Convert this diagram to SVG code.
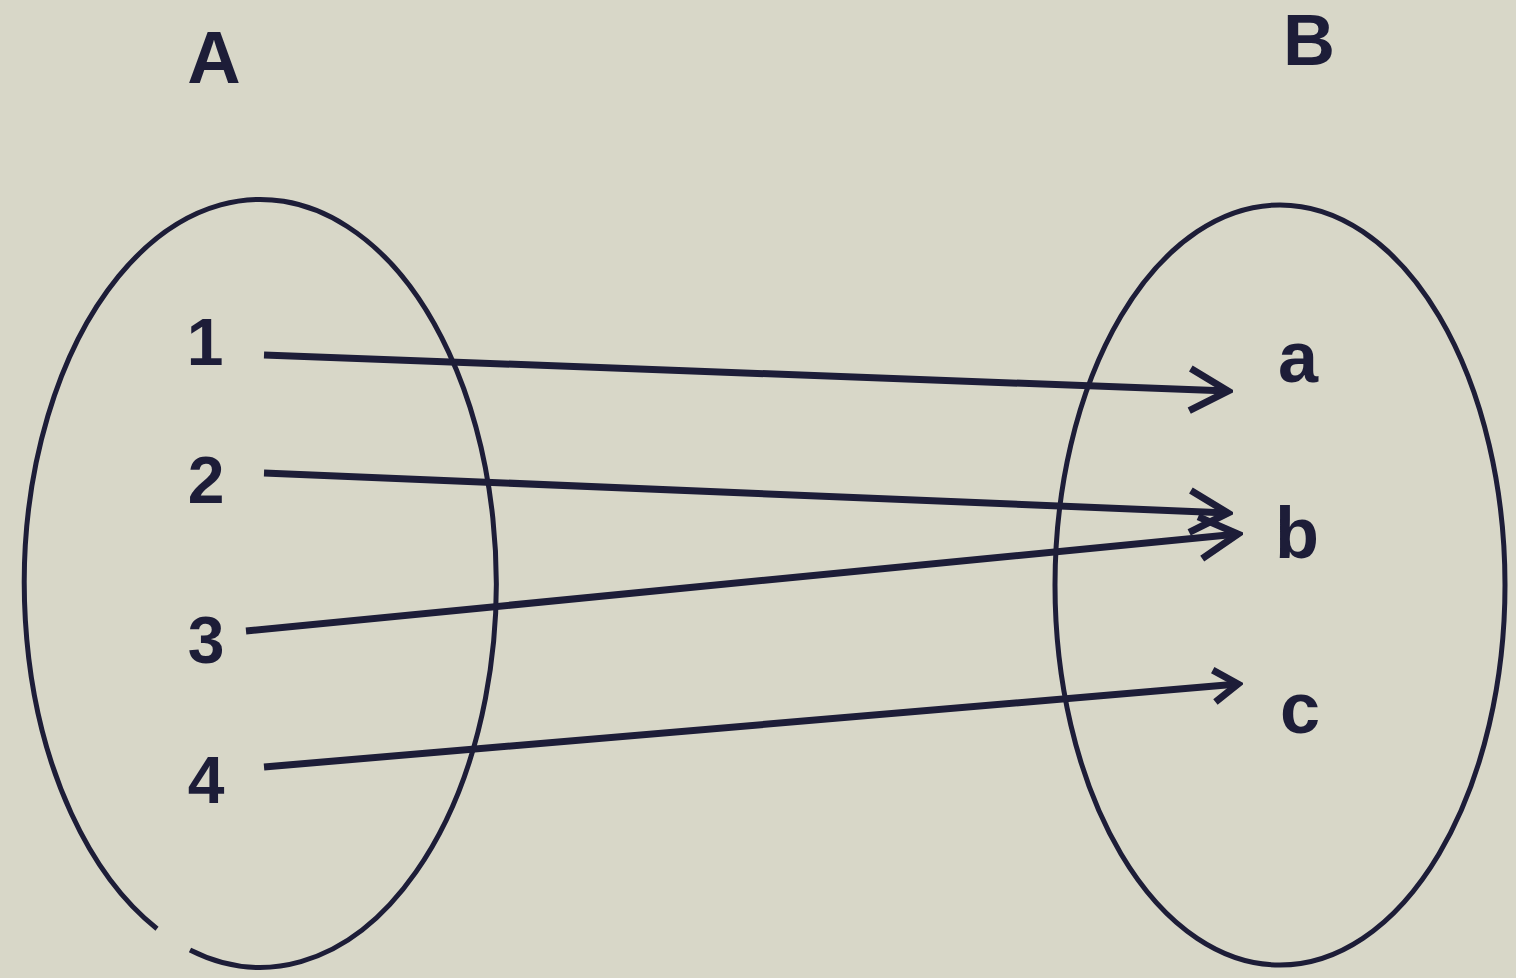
<svg xmlns="http://www.w3.org/2000/svg" width="1516" height="978" viewBox="0 0 1516 978">
<defs>
<style>
.lbl{font-family:"Liberation Sans",Arial,sans-serif;font-weight:bold;fill:#1d1d38;text-anchor:middle}
.set{fill:none;stroke:#1d1d38;stroke-width:5}
.arr{fill:none;stroke:#1d1d38;stroke-width:7;stroke-linecap:butt}
</style>
<marker id="head" markerUnits="userSpaceOnUse" viewBox="-45 -25 50 50" markerWidth="50" markerHeight="50" refX="0" refY="0" orient="auto">
<path d="M -38 -21 L 0 0 L -38 21" fill="none" stroke="#1d1d38" stroke-width="7" stroke-linejoin="miter"/>
</marker>
<marker id="headS" markerUnits="userSpaceOnUse" viewBox="-45 -25 50 50" markerWidth="50" markerHeight="50" refX="0" refY="0" orient="auto">
<path d="M -24 -16 L 0 0 L -24 16" fill="none" stroke="#1d1d38" stroke-width="7" stroke-linejoin="miter"/>
</marker>
</defs>
<rect width="1516" height="978" fill="#d8d7c8"/>
<g id="setA">
<path class="set" d="M 190 950 A 236 384 0 1 0 157 928.7"/>
<text class="lbl" x="214" y="83" font-size="74">A</text>
</g>
<g id="setB">
<ellipse class="set" cx="1280" cy="585" rx="225" ry="380"/>
<text class="lbl" x="1309" y="65" font-size="72">B</text>
</g>
<g id="n1"><text class="lbl" x="205" y="365" font-size="66">1</text></g>
<g id="n2"><text class="lbl" x="206" y="503" font-size="66">2</text></g>
<g id="n3"><text class="lbl" x="206" y="663" font-size="66">3</text></g>
<g id="n4"><text class="lbl" x="206" y="803" font-size="66">4</text></g>
<g id="na"><text class="lbl" x="1298" y="382" font-size="72">a</text></g>
<g id="nb"><text class="lbl" x="1297" y="558" font-size="72">b</text></g>
<g id="nc"><text class="lbl" x="1300" y="733" font-size="72">c</text></g>
<g id="connectors">
<line class="arr" x1="264" y1="355" x2="1228" y2="391" marker-end="url(#head)"/>
<line class="arr" x1="264" y1="473" x2="1228" y2="513" marker-end="url(#head)"/>
<line class="arr" x1="246" y1="631" x2="1238" y2="534" marker-end="url(#head)"/>
<line class="arr" x1="264" y1="767" x2="1238" y2="684" marker-end="url(#headS)"/>
</g>
</svg>
